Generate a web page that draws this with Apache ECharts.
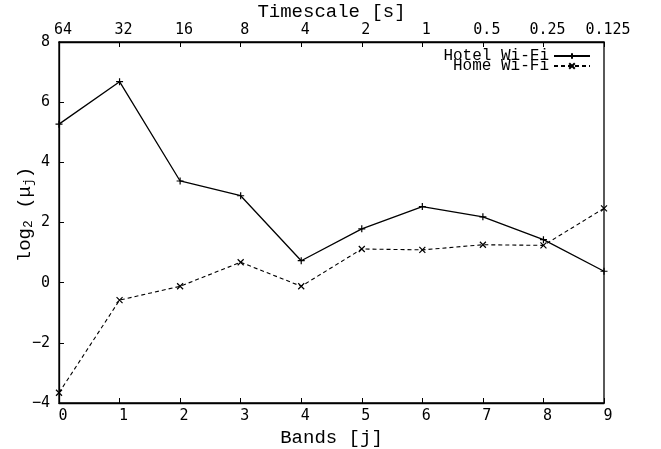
<!DOCTYPE html>
<html>
<head>
<meta charset="utf-8">
<script src="https://cdn.jsdelivr.net/npm/echarts@6/dist/echarts.min.js"></script>
<style>html,body{margin:0;padding:0;background:#fff}#c{width:661px;height:449px}</style>
</head>
<body>
<div id="c"></div>
<script>
var bands = ['0','1','2','3','4','5','6','7','8','9'];
var timescale = ['64','32','16','8','4','2','1','0.5','0.25','0.125'];
var hotel = [5.27, 6.68, 3.38, 2.89, 0.73, 1.79, 2.53, 2.19, 1.43, 0.38];
var home = [-3.66, -0.58, -0.12, 0.68, -0.12, 1.12, 1.09, 1.26, 1.24, 2.47];
var yTicks = [-4, -2, 0, 2, 4, 6, 8];

var plusSym = 'path://M0,5L10,5M5,0L5,10';
var crossSym = 'path://M0,0L10,10M10,0L0,10';
var tickFont = 'DejaVu Sans Mono';
var titleFont = 'Liberation Mono';

var chart = echarts.init(document.getElementById('c'));
chart.setOption({
  animation: false,
  backgroundColor: '#fff',
  grid: {left: 59, right: 57, top: 42, bottom: 46, outerBoundsMode: 'none', containLabel: false,
         show: true, borderColor: '#000', borderWidth: 1.3, backgroundColor: 'transparent'},
  legend: {
    orient: 'vertical', right: 70, top: 48, align: 'right', padding: 0,
    itemWidth: 36, itemHeight: 7, itemGap: -6,
    textStyle: {fontFamily: titleFont, fontSize: 16, color: '#000'},
    data: ['Hotel Wi-Fi', 'Home Wi-Fi']
  },
  xAxis: [{
    type: 'category', data: bands, boundaryGap: false, position: 'bottom',
    name: 'Bands [j]', nameLocation: 'middle', nameGap: 25, nameMoveOverlap: false,
    nameTextStyle: {fontFamily: titleFont, fontSize: 19, color: '#000'},
    axisLine: {onZero: false, lineStyle: {color: '#000', width: 1.3}},
    axisTick: {inside: true, length: 5, lineStyle: {color: '#000'}},
    axisLabel: {fontFamily: tickFont, fontSize: 15, color: '#000', margin: 6, padding: [0,0,0,8]},
    splitLine: {show: false}
  }, {
    type: 'category', data: timescale, boundaryGap: false, position: 'top',
    name: 'Timescale [s]', nameLocation: 'middle', nameGap: 21, nameMoveOverlap: false,
    nameTextStyle: {fontFamily: titleFont, fontSize: 19, color: '#000'},
    axisLine: {onZero: false, lineStyle: {color: '#000', width: 1.3}},
    axisTick: {inside: true, length: 5, lineStyle: {color: '#000'}},
    axisLabel: {fontFamily: tickFont, fontSize: 15, color: '#000', margin: 4, padding: [0,0,0,8]},
    splitLine: {show: false}
  }],
  yAxis: {
    type: 'value', min: yTicks[0], max: yTicks[yTicks.length-1], interval: 2,
    name: '{n|log}{s|2}{n| (μ}{s|j}{n|)}', nameLocation: 'middle', nameGap: 24, nameRotate: 90,
    nameMoveOverlap: false,
    nameTextStyle: {
      padding: [0, 0, 0, 16],
      rich: {
        n: {fontFamily: titleFont, fontSize: 19, color: '#000'},
        s: {fontFamily: titleFont, fontSize: 13, color: '#000', verticalAlign: 'bottom', padding: [8,0,0,0]}
      }
    },
    axisLine: {show: true, onZero: false, lineStyle: {color: '#000', width: 1.3}},
    axisTick: {show: true, inside: true, length: 5, lineStyle: {color: '#000'}},
    axisLabel: {fontFamily: tickFont, fontSize: 15, color: '#000', margin: 9,
      formatter: function (v) { return String(v).replace('-', '\u2212'); }},
    splitLine: {show: false}
  },
  series: [{
    name: 'Hotel Wi-Fi', type: 'line', data: hotel, xAxisIndex: 0,
    symbol: plusSym, symbolSize: 7, showSymbol: true,
    lineStyle: {color: '#000', width: 1.3, type: 'solid'},
    itemStyle: {color: '#000', borderColor: '#000', borderWidth: 1.2}
  }, {
    name: 'Home Wi-Fi', type: 'line', data: home, xAxisIndex: 0,
    symbol: crossSym, symbolSize: 6, showSymbol: true,
    lineStyle: {color: '#000', width: 1.1, type: [4, 3]},
    itemStyle: {color: '#000', borderColor: '#000', borderWidth: 1.2}
  }]
});
</script>
</body>
</html>
